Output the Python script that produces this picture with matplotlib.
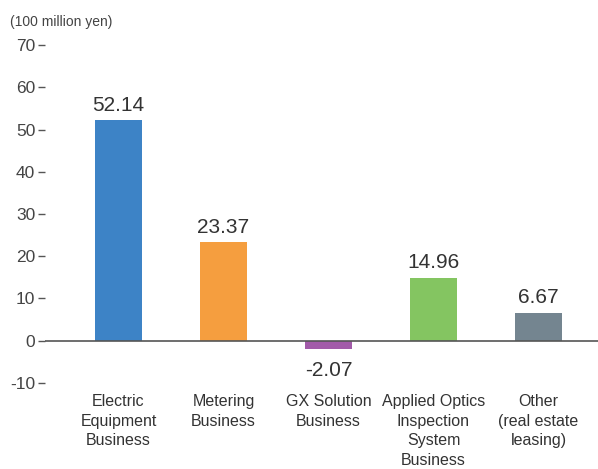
import matplotlib.pyplot as plt

# datos
categorias = ['Electric\nEquipment\nBusiness', 'Metering\nBusiness',
              'GX Solution\nBusiness', 'Applied Optics\nInspection\nSystem\nBusiness',
              'Other\n(real estate\nleasing)']
valores = [52.14, 23.37, -2.07, 14.96, 6.67]
colores = ['#3D83C6', '#F59E3F', '#A25BA9', '#84C561', '#748590']
yticks = [-10, 0, 10, 20, 30, 40, 50, 60, 70]

plt.rcParams['font.family'] = ['Liberation Sans', 'DejaVu Sans']

fig = plt.figure(figsize=(5.98, 4.69), dpi=100)
ax = fig.add_axes([0.0753, 0.1834, 0.9247, 0.7206])

x = list(range(len(valores)))
ax.bar(x, valores, width=0.448, color=colores, zorder=2)
ax.axhline(0, color='#555555', lw=1.2, zorder=3)

for xi, v in zip(x, valores):
    if v >= 0:
        ax.text(xi, v + 1.2, f'{v:.2f}', ha='center', va='bottom', fontsize=15, color='#333333')
    else:
        ax.text(xi, v - 2.8, f'{v:.2f}', ha='center', va='top', fontsize=15, color='#333333')

ax.set_xlim(-0.7, 4.567)
ax.set_ylim(-10, 70)
ax.set_yticks(yticks)
ax.set_yticklabels([str(t) for t in yticks], fontsize=12.5, color='#444444')
ax.tick_params(axis='y', length=5, width=1, color='#555555', pad=2)
ax.set_xticks(x)
ax.set_xticklabels(categorias, fontsize=11.5, color='#333333', linespacing=1.38)
ax.tick_params(axis='x', length=0, pad=8)
for s in ax.spines.values():
    s.set_visible(False)

fig.text(0.017, 0.953, '(100 million yen)', fontsize=10, color='#444444', va='center')

fig.savefig('out.png', dpi=100)
